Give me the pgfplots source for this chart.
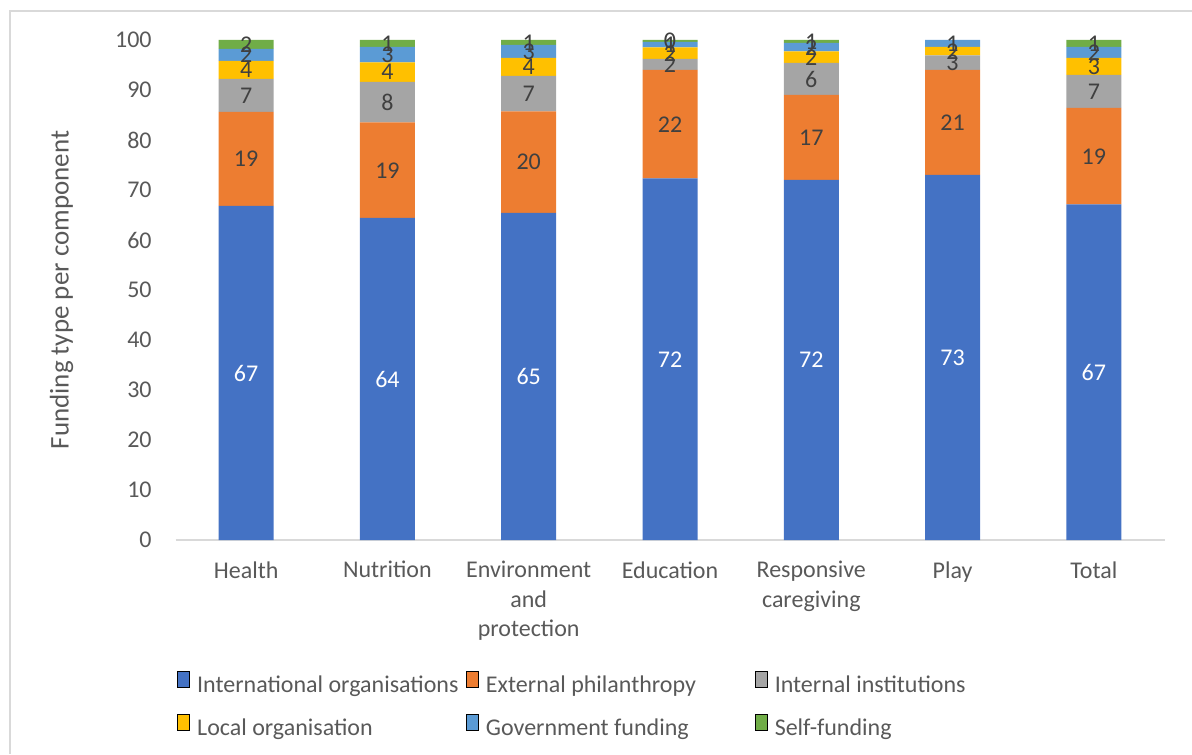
\documentclass[border=0pt]{standalone}
\usepackage{fontspec}
\setmainfont{Carlito}
\usepackage{pgfplots}
\pgfplotsset{compat=1.18}
\usepackage{pgfplotstable}

\definecolor{cIntl}{HTML}{4472C4}
\definecolor{cExt}{HTML}{ED7D31}
\definecolor{cInst}{HTML}{A5A5A5}
\definecolor{cLocal}{HTML}{FFC000}
\definecolor{cGov}{HTML}{5B9BD5}
\definecolor{cSelf}{HTML}{70AD47}
\definecolor{ticktext}{HTML}{595959}
\definecolor{labeltext}{HTML}{404040}
\definecolor{axisgray}{HTML}{D9D9D9}

% Share of each funding type per component (percent)
\pgfplotstableread{
x intl ext inst local gov self
0 66.8 18.8 6.6 3.6 2.4 1.8
1 64.4 19.1 8.1 3.9 3.1 1.4
2 65.4 20.3 7.1 3.6 2.6 1.0
3 72.3 21.7 2.2 2.3 1.1 0.4
4 72.0 17.0 6.4 2.3 1.7 0.6
5 73.0 21.0 2.9 1.7 1.4 0.0
6 67.1 19.3 6.6 3.4 2.2 1.4
}\funding

\pgfplotsset{
  ybar legend/.style={legend image code/.code={\fill[##1, draw=none] (0pt,-2.5pt) rectangle (6pt,3.5pt);}},
  % value label inside its own segment
  seglabel/.style={
    nodes near coords={\pgfmathprintnumber[fixed,precision=0]{\pgfplotspointmeta}},
    every node near coord/.append style={
      anchor=center, inner sep=0pt, text=#1,
      font=\fontsize{12}{14}\selectfont}
  }
}

\begin{document}
\begin{tikzpicture}[font=\fontsize{12}{14.6}\selectfont]
\useasboundingbox (-87.75pt,-107pt) rectangle (508.25pt,270pt);
\draw[axisgray, line width=0.75pt] (-82.75pt,-107pt) -- (-82.75pt,264.5pt) -- (508.25pt,264.5pt);
\begin{axis}[
  at={(0,0)}, anchor=south west,
  scale only axis, width=494.5pt, height=250pt,
  ybar stacked, bar width=27.5pt,
  xmin=-0.5, xmax=6.5, ymin=0, ymax=100,
  enlargelimits=false,
  point meta=explicit,
  xtick={0,...,6},
  xticklabels={Health, Nutrition, {Environment\\and\\protection}, Education, {Responsive\\caregiving}, Play, Total},
  ytick={0,10,...,100},
  axis x line=bottom, axis y line=left, axis line style={-},
  x axis line style={draw=axisgray, line width=0.75pt},
  y axis line style={draw=none},
  major tick length=0pt,
  /pgf/number format/assume math mode=true,
  tick label style={text=ticktext, inner sep=0pt},
  xticklabel style={align=center, anchor=north, yshift=-10.5pt},
  yticklabel style={anchor=east, xshift=-11.75pt},
  ylabel={Funding type per component},
  ylabel style={at={(axis description cs:-0.1153,0.5)}, anchor=center, text=ticktext,
    font=\fontsize{13.5}{16}\selectfont},
  legend columns=3,
  legend image post style={draw=none},
  legend style={at={(axis description cs:0.0015,-0.33)}, anchor=west,
    draw=none, fill=none, inner sep=0pt, text=ticktext,
    nodes={inner sep=0pt},
    /tikz/every odd column/.append style={column sep=3.5pt},
    /tikz/row sep=9.4pt},
]
\addplot[fill=cIntl, draw=none, seglabel=white] table[x=x, y=intl, meta=intl] {\funding};
\addplot[fill=cExt, draw=none, seglabel=labeltext] table[x=x, y=ext, meta=ext] {\funding};
\addplot[fill=cInst, draw=none, seglabel=labeltext] table[x=x, y=inst, meta=inst] {\funding};
\addplot[fill=cLocal, draw=none, seglabel=labeltext] table[x=x, y=local, meta=local] {\funding};
\addplot[fill=cGov, draw=none, seglabel=labeltext] table[x=x, y=gov, meta=gov] {\funding};
\addplot[fill=cSelf, draw=none, seglabel=labeltext] table[x=x, y=self, meta=self] {\funding};
\addlegendentry{\makebox[134.5pt][l]{\strut International organisations}}
\addlegendentry{\makebox[134.5pt][l]{\strut External philanthropy}}
\addlegendentry{\makebox[134.5pt][l]{\strut Internal institutions}}
\addlegendentry{\makebox[134.5pt][l]{\strut Local organisation}}
\addlegendentry{\makebox[134.5pt][l]{\strut Government funding}}
\addlegendentry{\makebox[134.5pt][l]{\strut Self-funding}}
\end{axis}
\end{tikzpicture}
\end{document}
